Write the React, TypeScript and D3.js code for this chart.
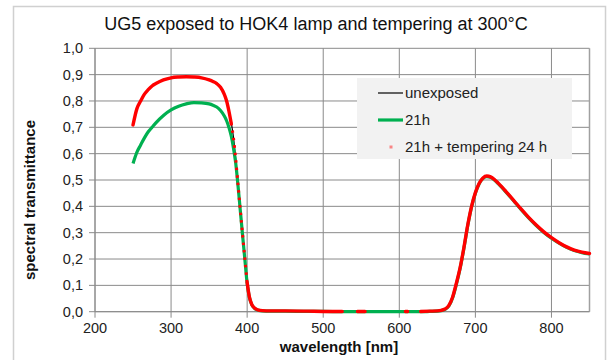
import React from "react";
import * as d3 from "d3";

// Spectral transmittance of UG5 glass, sampled wavelengths in nm
const wavelengths = [
  250, 255, 260, 265, 270, 275, 280, 290, 300, 310, 320, 330, 340, 350, 355, 360, 365, 370,
  373, 376, 379, 382, 385, 388, 391, 394, 397, 400, 403, 406, 410, 415, 420, 430, 450, 480,
  500, 525, 530, 540, 545, 550, 555, 560, 580, 600, 608, 611, 615, 628, 640, 650, 655, 660,
  665, 670, 675, 680, 685, 690, 695, 700, 705, 710, 715, 720, 725, 730, 740, 750, 760, 770,
  780, 790, 800, 810, 820, 830, 840, 850,
];

const unexposed = [
  0.712, 0.772, 0.802, 0.827, 0.845, 0.858, 0.867, 0.881, 0.889, 0.892, 0.893, 0.892, 0.889, 0.882, 0.876, 0.868, 0.854, 0.828,
  0.803, 0.765, 0.719, 0.663, 0.58, 0.484, 0.388, 0.294, 0.202, 0.112, 0.056, 0.029, 0.013, 0.006, 0.004, 0.003, 0.003, 0.002,
  0.001, 0.001, 0.001, 0.001, 0.001, 0.001, 0.001, 0.001, 0.001, 0.001, 0.001, 0.001, 0.001, 0.001, 0.002, 0.003, 0.005, 0.01,
  0.023, 0.055, 0.108, 0.168, 0.246, 0.331, 0.401, 0.453, 0.489, 0.509, 0.516, 0.513, 0.503, 0.489, 0.458, 0.425, 0.391, 0.359,
  0.33, 0.304, 0.282, 0.263, 0.247, 0.235, 0.227, 0.222,
];

const exposed21h = [
  0.563, 0.605, 0.633, 0.66, 0.683, 0.7, 0.717, 0.745, 0.766, 0.78, 0.789, 0.794, 0.793, 0.789, 0.784, 0.777, 0.764, 0.743,
  0.725, 0.7, 0.668, 0.622, 0.563, 0.478, 0.384, 0.29, 0.198, 0.108, 0.054, 0.027, 0.012, 0.005, 0.003, 0.002, 0.002, 0.001,
  0.001, 0.0, 0.0, 0.0, 0.0, 0.0, 0.0, 0.0, 0.0, 0.0, 0.0, 0.0, 0.0, 0.0, 0.001, 0.002, 0.004, 0.009,
  0.021, 0.052, 0.104, 0.165, 0.242, 0.327, 0.398, 0.45, 0.486, 0.506, 0.513, 0.51, 0.5, 0.486, 0.455, 0.422, 0.388, 0.356,
  0.327, 0.301, 0.279, 0.26, 0.244, 0.232, 0.224, 0.219,
];

// null = no measurement recorded at that wavelength
const tempered24h: (number | null)[] = [
  0.709, 0.77, 0.8, 0.826, 0.843, 0.857, 0.866, 0.88, 0.888, 0.891, 0.892, 0.891, 0.888, 0.88, 0.874, 0.866, 0.852, 0.825,
  0.8, 0.762, 0.716, 0.66, 0.578, 0.482, 0.386, 0.292, 0.2, 0.11, 0.055, 0.028, 0.013, 0.006, 0.004, 0.003, 0.003, 0.002,
  0.001, 0.001, null, null, 0.001, 0.001, 0.001, null, null, null, 0.001, 0.001, null, 0.001, 0.002, 0.003, 0.005, 0.01,
  0.023, 0.055, 0.108, 0.168, 0.245, 0.33, 0.4, 0.452, 0.488, 0.508, 0.515, 0.512, 0.502, 0.488, 0.457, 0.424, 0.39, 0.358,
  0.329, 0.303, 0.281, 0.262, 0.246, 0.234, 0.226, 0.221,
];

const xTicks = [200, 300, 400, 500, 600, 700, 800];
const yTicks = [0, 0.1, 0.2, 0.3, 0.4, 0.5, 0.6, 0.7, 0.8, 0.9, 1.0];
const legendLabels = ["unexposed", "21h", "21h + tempering 24 h"];

const W = 609;
const H = 360;
const plot = { left: 95, right: 589.5, top: 48.3, bottom: 311.7 };
const FONT = "'Liberation Sans', Arial, Helvetica, sans-serif";
const GRID = "#8a8a8a";
const RED = "#ff0000";
const GREEN = "#00b050";

type Pt = { w: number; t: number | null };

export default function App() {
  const x = d3.scaleLinear().domain([200, 850]).range([plot.left, plot.right]);
  const y = d3.scaleLinear().domain([0, 1]).range([plot.bottom, plot.top]);

  const toPts = (vals: (number | null)[]): Pt[] => wavelengths.map((w, i) => ({ w, t: vals[i] }));

  const line = d3
    .line<Pt>()
    .defined((d) => d.t !== null)
    .x((d) => x(d.w))
    .y((d) => y(d.t as number))
    .curve(d3.curveMonotoneX);

  const redPts = toPts(tempered24h);
  // the steep UV edge of the tempered series shows as sparse dots over the 21h line
  const edgeLo = 379;
  const edgeHi = 400;
  const redSolid = line.defined((d) => d.t !== null && !(d.w > edgeLo && d.w < edgeHi))(redPts) || "";
  const redEdge =
    line.defined((d) => d.t !== null)(redPts.filter((d) => d.w >= edgeLo && d.w <= edgeHi)) || "";
  line.defined((d) => d.t !== null);

  const blackPath = line(toPts(unexposed)) || "";
  const greenPath = line(toPts(exposed21h)) || "";

  const fmt = (v: number) => v.toFixed(1).replace(".", ",");

  const legend = { x: 357, y: 78, w: 215, h: 81 };
  const rowY = [93, 120, 147];

  return (
    <div style={{ position: "fixed", left: 0, top: 0, width: W, height: H, background: "#fff" }}>
      <svg width={W} height={H} viewBox={`0 0 ${W} ${H}`} style={{ display: "block" }}>
        <rect x={13.5} y={6.5} width={592} height={360} fill="#fff" stroke="#d0d0d0" strokeWidth={1.5} />

        <text x={316} y={30} textAnchor="middle" fontFamily={FONT} fontSize={18} fill="#111">
          UG5 exposed to HOK4 lamp and tempering at 300°C
        </text>

        {/* grid */}
        {yTicks.map((t) => (
          <line key={`gy${t}`} x1={plot.left} x2={plot.right} y1={y(t)} y2={y(t)} stroke={GRID} strokeWidth={1} />
        ))}
        {xTicks.map((t) => (
          <line key={`gx${t}`} x1={x(t)} x2={x(t)} y1={plot.top} y2={plot.bottom} stroke={GRID} strokeWidth={1} />
        ))}
        <line x1={plot.right} x2={plot.right} y1={plot.top} y2={plot.bottom} stroke="#a0a0a0" strokeWidth={1.5} />

        {/* axes and ticks */}
        <line x1={plot.left} x2={plot.left} y1={plot.top} y2={plot.bottom} stroke={GRID} strokeWidth={1} />
        <line x1={plot.left} x2={plot.right} y1={plot.bottom} y2={plot.bottom} stroke={GRID} strokeWidth={1} />
        {yTicks.map((t) => (
          <g key={`ty${t}`}>
            <line x1={plot.left - 6} x2={plot.left} y1={y(t)} y2={y(t)} stroke={GRID} />
            <text x={83} y={y(t) + 5} textAnchor="end" fontFamily={FONT} fontSize={14.5} fill="#222">
              {fmt(t)}
            </text>
          </g>
        ))}
        {xTicks.map((t) => (
          <g key={`tx${t}`}>
            <line x1={x(t)} x2={x(t)} y1={plot.bottom} y2={plot.bottom + 6} stroke={GRID} />
            <text x={x(t)} y={333} textAnchor="middle" fontFamily={FONT} fontSize={14.5} fill="#222">
              {t}
            </text>
          </g>
        ))}

        <text x={339} y={352} textAnchor="middle" fontFamily={FONT} fontSize={15} fontWeight="bold" fill="#111">
          wavelength [nm]
        </text>
        <text
          transform="translate(35,200) rotate(-90)"
          textAnchor="middle"
          fontFamily={FONT}
          fontSize={15}
          fontWeight="bold"
          fill="#111"
        >
          spectral transmittance
        </text>

        {/* series */}
        <path d={blackPath} fill="none" stroke="#000" strokeWidth={1.2} />
        <path d={greenPath} fill="none" stroke={GREEN} strokeWidth={3.2} strokeLinejoin="round" />
        <path d={redSolid} fill="none" stroke={RED} strokeWidth={3.4} strokeLinejoin="round" strokeLinecap="round" />
        <path d={redEdge} fill="none" stroke={RED} strokeWidth={3} strokeDasharray="2.5 5" />

        {/* legend */}
        <rect x={legend.x} y={legend.y} width={legend.w} height={legend.h} fill="#f2f2f2" />
        <line x1={378} x2={403} y1={rowY[0]} y2={rowY[0]} stroke="#000" strokeWidth={1.2} />
        <line x1={378} x2={403} y1={rowY[1]} y2={rowY[1]} stroke={GREEN} strokeWidth={3.2} />
        <rect x={389.5} y={rowY[2] - 1.5} width={3} height={3} fill={RED} opacity={0.45} />
        {legendLabels.map((label, i) => (
          <text key={label} x={405} y={rowY[i] + 5} fontFamily={FONT} fontSize={15} fill="#222">
            {label}
          </text>
        ))}
      </svg>
    </div>
  );
}
